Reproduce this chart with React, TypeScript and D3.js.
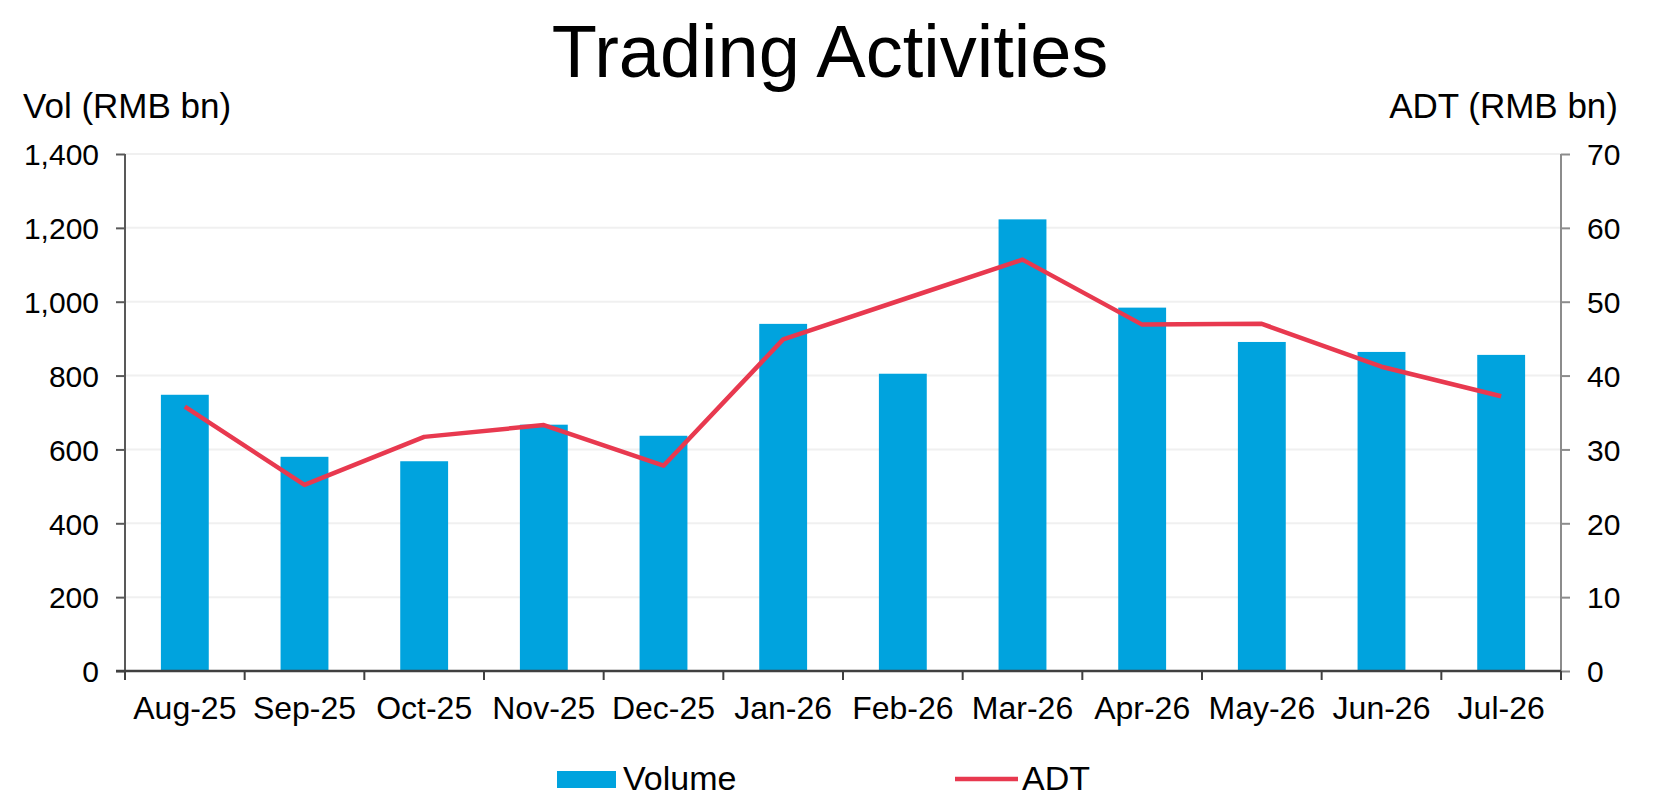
import * as d3 from "d3";
import { useEffect, useRef } from "react";

const months = [
  "Aug-25", "Sep-25", "Oct-25", "Nov-25", "Dec-25", "Jan-26",
  "Feb-26", "Mar-26", "Apr-26", "May-26", "Jun-26", "Jul-26",
];
const volume = [748, 580, 568, 667, 637, 940, 805, 1223, 984, 891, 864, 856];
const adt = [35.8, 25.2, 31.7, 33.3, 27.8, 44.9, 50.3, 55.7, 46.9, 47.0, 41.2, 37.2];
const volTicks = [0, 200, 400, 600, 800, 1000, 1200, 1400];
const adtTicks = [0, 10, 20, 30, 40, 50, 60, 70];

const BAR_COLOR = "#00a3de";
const LINE_COLOR = "#e8394f";
const FONT = "'Liberation Sans', Arial, sans-serif";

export default function App() {
  const svgRef = useRef<SVGSVGElement | null>(null);
  const width = 1660;
  const height = 807;

  useEffect(() => {
    if (!svgRef.current) return;
    document.body.style.margin = "0";

    const svg = d3.select(svgRef.current);
    svg.selectAll("*").remove();

    const margin = { top: 154, right: 99, bottom: 136, left: 125 };
    const innerW = width - margin.left - margin.right;
    const innerH = height - margin.top - margin.bottom;

    const x = d3.scaleBand().domain(months).range([0, innerW]).paddingInner(0).paddingOuter(0);
    const yVol = d3.scaleLinear().domain([0, 1400]).range([innerH, 0]);
    const yAdt = d3.scaleLinear().domain([0, 70]).range([innerH, 0]);

    svg.append("rect").attr("width", width).attr("height", height).attr("fill", "#fff");

    // Title
    svg
      .append("text")
      .attr("x", width / 2)
      .attr("y", 77)
      .attr("text-anchor", "middle")
      .attr("font-family", FONT)
      .attr("font-size", 74)
      .attr("fill", "#000")
      .text("Trading Activities");

    // Axis titles
    svg
      .append("text")
      .attr("x", 23)
      .attr("y", 118)
      .attr("font-family", FONT)
      .attr("font-size", 35)
      .text("Vol (RMB bn)");

    svg
      .append("text")
      .attr("x", 1618)
      .attr("y", 118)
      .attr("text-anchor", "end")
      .attr("font-family", FONT)
      .attr("font-size", 35)
      .text("ADT (RMB bn)");

    const g = svg.append("g").attr("transform", `translate(${margin.left}, ${margin.top})`);

    // Gridlines
    g.selectAll(".grid")
      .data(volTicks.filter((t) => t > 0))
      .join("line")
      .attr("class", "grid")
      .attr("x1", 0)
      .attr("x2", innerW)
      .attr("y1", (d) => yVol(d))
      .attr("y2", (d) => yVol(d))
      .attr("stroke", "#f0f0f0")
      .attr("stroke-width", 2);

    // Bars
    const barW = x.bandwidth() * 0.4;
    g.selectAll(".bar")
      .data(volume)
      .join("rect")
      .attr("class", "bar")
      .attr("x", (_, i) => (x(months[i]) as number) + (x.bandwidth() - barW) / 2)
      .attr("y", (d) => yVol(d))
      .attr("width", barW)
      .attr("height", (d) => innerH - yVol(d))
      .attr("fill", BAR_COLOR);

    // Left axis
    const leftAxis = g
      .append("g")
      .call(
        d3
          .axisLeft(yVol)
          .tickValues(volTicks)
          .tickSize(9)
          .tickPadding(17)
          .tickFormat((d) => d3.format(",")(d as number))
      );
    leftAxis.select(".domain").attr("stroke", "#595959").attr("stroke-width", 2).attr("d", `M0,${innerH}V0`);
    leftAxis.selectAll(".tick line").attr("stroke", "#595959").attr("stroke-width", 2);
    leftAxis
      .selectAll(".tick text")
      .attr("font-family", FONT)
      .attr("font-size", 30)
      .attr("fill", "#000")
      .attr("dy", "0.36em");

    // Right axis
    const rightAxis = g
      .append("g")
      .attr("transform", `translate(${innerW}, 0)`)
      .call(d3.axisRight(yAdt).tickValues(adtTicks).tickSize(9).tickPadding(17));
    rightAxis.select(".domain").attr("stroke", "#8c8c8c").attr("stroke-width", 2).attr("d", `M0,${innerH}V0`);
    rightAxis.selectAll(".tick line").attr("stroke", "#8c8c8c").attr("stroke-width", 2);
    rightAxis
      .selectAll(".tick text")
      .attr("font-family", FONT)
      .attr("font-size", 30)
      .attr("fill", "#000")
      .attr("dy", "0.36em");

    // Bottom axis with ticks at category boundaries
    const bottom = g.append("g").attr("transform", `translate(0, ${innerH})`);
    const boundaries = d3.range(months.length + 1).map((i) => i * x.step());
    bottom
      .selectAll(".btick")
      .data(boundaries)
      .join("line")
      .attr("class", "btick")
      .attr("x1", (d) => d)
      .attr("x2", (d) => d)
      .attr("y1", 0)
      .attr("y2", 9)
      .attr("stroke", "#404040")
      .attr("stroke-width", 2);
    bottom
      .append("line")
      .attr("x1", -9)
      .attr("x2", innerW)
      .attr("y1", 0)
      .attr("y2", 0)
      .attr("stroke", "#404040")
      .attr("stroke-width", 2.5);
    bottom
      .selectAll(".xlabel")
      .data(months)
      .join("text")
      .attr("class", "xlabel")
      .attr("x", (d) => (x(d) as number) + x.bandwidth() / 2)
      .attr("y", 48)
      .attr("text-anchor", "middle")
      .attr("font-family", FONT)
      .attr("font-size", 32)
      .attr("fill", "#000")
      .text((d) => d);

    // ADT line
    const line = d3
      .line<number>()
      .x((_, i) => (x(months[i]) as number) + x.bandwidth() / 2)
      .y((d) => yAdt(d));
    g.append("path")
      .datum(adt)
      .attr("d", line)
      .attr("fill", "none")
      .attr("stroke", LINE_COLOR)
      .attr("stroke-width", 4.5)
      .attr("stroke-linejoin", "round");

    // Legend
    const legend = svg.append("g");
    legend
      .append("rect")
      .attr("x", 557)
      .attr("y", 771)
      .attr("width", 59)
      .attr("height", 17)
      .attr("fill", BAR_COLOR);
    legend
      .append("text")
      .attr("x", 623)
      .attr("y", 790)
      .attr("font-family", FONT)
      .attr("font-size", 34)
      .text("Volume");
    legend
      .append("line")
      .attr("x1", 955)
      .attr("x2", 1018)
      .attr("y1", 779)
      .attr("y2", 779)
      .attr("stroke", LINE_COLOR)
      .attr("stroke-width", 4.5);
    legend
      .append("text")
      .attr("x", 1022)
      .attr("y", 790)
      .attr("font-family", FONT)
      .attr("font-size", 34)
      .text("ADT");
  }, []);

  return (
    <svg
      ref={svgRef}
      width={width}
      height={height}
      style={{ display: "block", position: "absolute", left: 0, top: 0 }}
    ></svg>
  );
}
